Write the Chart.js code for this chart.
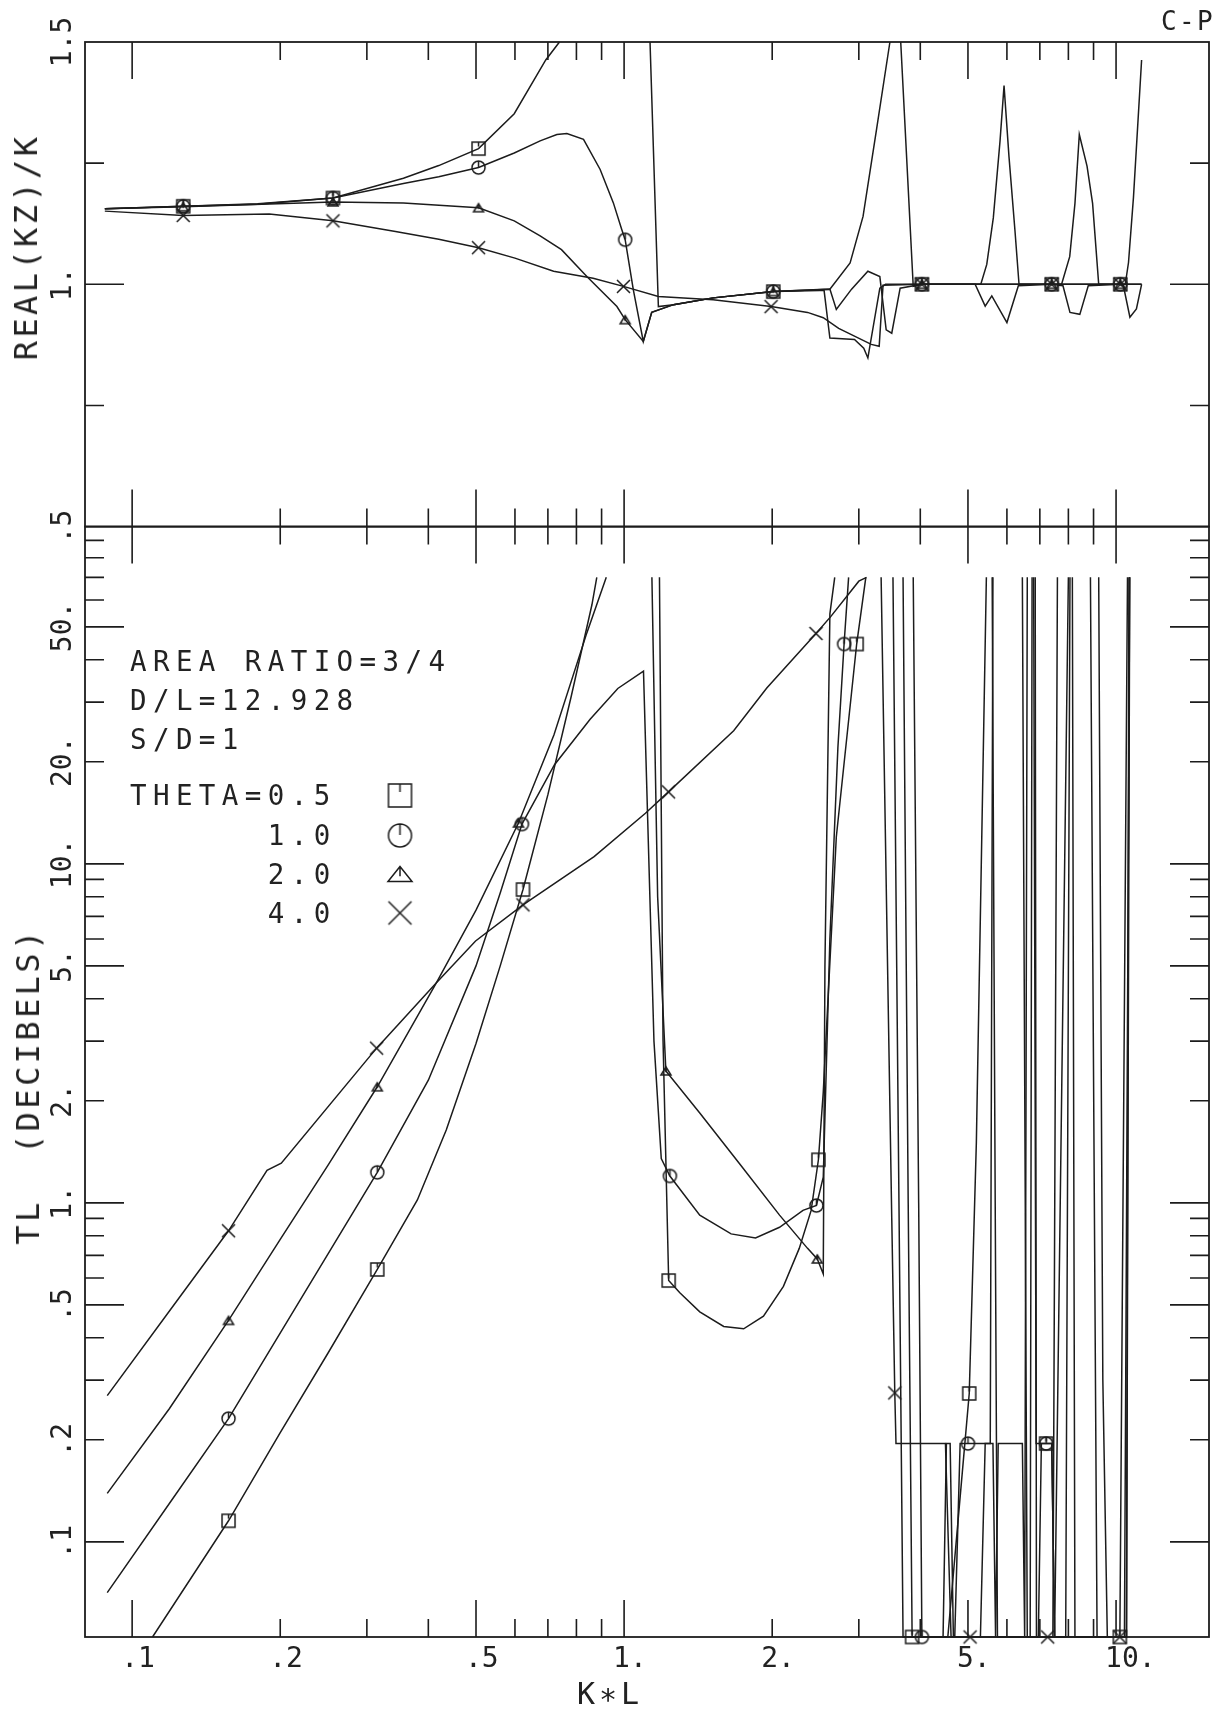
<!DOCTYPE html>
<html>
<head>
<meta charset="utf-8">
<script src="https://cdn.jsdelivr.net/npm/chart.js@4.4.1/dist/chart.umd.min.js"></script>
<style>
  html, body { margin: 0; padding: 0; background: #fff; }
  #page { position: relative; width: 1225px; height: 1712px; overflow: hidden; background: #fff;
          font-family: 'DejaVu Sans Mono', monospace; color: #222; }
  canvas { position: absolute; left: 0; }
  #reCanvas { top: 0; }
  #tlCanvas { top: 480px; }
  .txt { position: absolute; white-space: pre; line-height: 1; }
  .rot { transform: translate(-50%, -50%) rotate(-90deg); }
  .mid { transform: translate(-50%, -50%); }
  .note { left: 130px; font-size: 27.5px; letter-spacing: 6.4px; }
</style>
</head>
<body>
<div id="page">
  <canvas id="reCanvas" width="1225" height="560"></canvas>
  <canvas id="tlCanvas" width="1225" height="1232"></canvas>

  <div class="txt rot" style="left:26px;top:247px;font-size:32px;letter-spacing:3.4px">REAL(KZ)/K</div>
  <div class="txt rot" style="left:28px;top:1086px;font-size:32px;letter-spacing:3.4px">TL  (DECIBELS)</div>
  <div class="txt mid" style="left:610px;top:1694px;font-size:30px;letter-spacing:4px">K∗L</div>
  <div class="txt" style="left:1161px;top:8px;font-size:26px;letter-spacing:2.3px">C-P</div>

  <div class="txt note" style="top:648px">AREA RATIO=3/4</div>
  <div class="txt note" style="top:687px">D/L=12.928</div>
  <div class="txt note" style="top:726px">S/D=1</div>
  <div class="txt note" style="top:782px">THETA=0.5</div>
  <div class="txt note" style="top:822px">      1.0</div>
  <div class="txt note" style="top:861px">      2.0</div>
  <div class="txt note" style="top:900px">      4.0</div>
</div>

<script>
// ---- axis ticks and labels ----
const kLTicks = [0.1, 0.2, 0.3, 0.4, 0.5, 0.6, 0.7, 0.8, 0.9, 1, 2, 3, 4, 5, 6, 7, 8, 9, 10];
const kLLabelVals = [0.1, 0.2, 0.5, 1, 2, 5, 10];
const kLLabels = ['.1', '.2', '.5', '1.', '2.', '5.', '10.'];
const reTicks = [0.75, 1, 1.25];
const reLabelVals = [0.5, 1, 1.5];
const reLabels = ['.5', '1.', '1.5'];
const tlTicks = [0.1, 0.2, 0.3, 0.4, 0.5, 0.6, 0.7, 0.8, 0.9, 1, 2, 3, 4, 5, 6, 7, 8, 9,
                 10, 20, 30, 40, 50, 60, 70, 80, 90];
const tlLabelVals = [0.1, 0.2, 0.5, 1, 2, 5, 10, 20, 50];
const tlLabels = ['.1', '.2', '.5', '1.', '2.', '5.', '10.', '20.', '50.'];

// ---- REAL(KZ)/K, one x/y pair per theta (null = pen lifted outside the frame) ----
const reX05 = [0.088, 0.127, 0.18, 0.256, 0.356, 0.42, 0.506, 0.598, 0.693, 0.739, 0.9, 1.129, 1.174, 1.26, 1.518, 2.01, 2.62, 2.88, 3.06, 3.26, 3.47, 3.56, 3.65, 3.87, 4.03, 5.31, 5.46, 5.63, 5.81, 5.92, 6.06, 6.23, 6.35, 7.4, 7.75, 8.05, 8.25, 8.42, 8.73, 8.96, 9.22, 10.2, 10.44, 10.6, 10.85, 11.27];
const reY05 = [1.156, 1.161, 1.166, 1.178, 1.219, 1.245, 1.28, 1.352, 1.463, 1.5, null, 1.5, 0.954, 0.958, 0.972, 0.985, 0.99, 1.044, 1.14, 1.32, 1.5, null, 1.5, 0.996, 1.0, 1.0, 1.041, 1.137, 1.296, 1.41, 1.262, 1.111, 1.0, 1.0, 1.0, 1.057, 1.167, 1.309, 1.244, 1.167, 1.0, 1.0, 1.0, 1.045, 1.18, 1.463];
const reX10 = [0.088, 0.127, 0.18, 0.256, 0.356, 0.42, 0.506, 0.598, 0.675, 0.73, 0.765, 0.827, 0.894, 0.951, 0.989, 1.005, 1.044, 1.094, 1.138, 1.26, 1.518, 2.01, 2.62, 2.70, 2.9, 3.13, 3.31, 3.41, 3.5, 3.64, 4.03, 5.17, 5.42, 5.59, 6.0, 6.33, 7.4, 7.8, 8.06, 8.44, 8.78, 10.2, 10.35, 10.67, 11.0, 11.27];
const reY10 = [1.156, 1.161, 1.165, 1.178, 1.208, 1.222, 1.241, 1.271, 1.296, 1.309, 1.311, 1.299, 1.237, 1.168, 1.113, 1.092, 0.989, 0.882, 0.942, 0.958, 0.972, 0.985, 0.99, 0.948, 0.99, 1.027, 1.016, 0.906, 0.899, 0.992, 1.0, 1.0, 0.955, 0.976, 0.921, 0.997, 1.0, 0.997, 0.942, 0.938, 0.997, 1.0, 0.997, 0.932, 0.949, 1.0];
const reX20 = [0.088, 0.127, 0.256, 0.356, 0.506, 0.598, 0.675, 0.746, 0.84, 0.967, 1.005, 1.094, 1.138, 1.26, 1.518, 2.01, 2.5, 2.55, 2.62, 2.94, 3.07, 3.13, 3.31, 3.4, 4.03, 7.4, 10.2, 11.27];
const reY20 = [1.156, 1.16, 1.17, 1.168, 1.158, 1.131, 1.10, 1.0715, 1.016, 0.954, 0.927, 0.882, 0.942, 0.958, 0.972, 0.985, 0.987, 0.987, 0.889, 0.886, 0.868, 0.848, 0.992, 1.0, 1.0, 1.0, 1.0, 1.0];
const reX40 = [0.088, 0.127, 0.19, 0.256, 0.343, 0.42, 0.506, 0.6, 0.719, 0.865, 0.997, 1.174, 1.517, 1.99, 2.36, 2.54, 2.73, 3.18, 3.30, 3.36, 4.03, 7.4, 10.2, 11.27];
const reY40 = [1.151, 1.142, 1.145, 1.131, 1.109, 1.093, 1.0756, 1.054, 1.027, 1.0126, 0.9957, 0.975, 0.968, 0.954, 0.942, 0.931, 0.909, 0.876, 0.872, 0.998, 1.0, 1.0, 1.0, 1.0];

// ---- TL (dB), same layout ----
const tlX05 = [0.11, 0.157, 0.2, 0.25, 0.315, 0.38, 0.435, 0.5, 0.56, 0.623, 0.7, 0.78, 0.86, 0.88, 1.0, 1.18, 1.20, 1.232, 1.298, 1.425, 1.594, 1.75, 1.92, 2.108, 2.27, 2.4, 2.483, 2.54, 2.7, 2.97, 3.1, 3.4, 3.69, 3.78, 3.85, 4.55, 4.85, 5.03, 5.2, 5.45, 5.52, 5.6, 5.68, 5.74, 6.95, 7.05, 7.21, 7.4, 7.5, 9.9, 10.18, 10.5, 10.66];
const tlY05 = [0.0524, 0.1154, 0.21, 0.36, 0.636, 1.02, 1.64, 2.95, 5.0, 8.4, 16, 31, 58, 70, null, 70, 3.0, 0.59, 0.543, 0.477, 0.432, 0.425, 0.463, 0.567, 0.734, 0.95, 1.34, 2.12, 12, 44.5, 70, null, 70, 1.0, 0.0524, 0.0524, 0.15, 0.274, 1.5, 70, null, 70, 1.0, 0.0524, 0.0524, 0.195, 0.195, 0.195, 0.0524, 0.0524, 0.0524, 0.0524, 70];
const tlX10 = [0.089, 0.12, 0.157, 0.315, 0.4, 0.5, 0.56, 0.62, 0.722, 0.853, 0.971, 1.095, 1.15, 1.19, 1.239, 1.425, 1.65, 1.85, 2.07, 2.31, 2.46, 2.54, 2.62, 2.72, 2.80, 2.86, 3.5, 3.87, 3.97, 4.03, 4.70, 4.82, 5.0, 5.62, 5.69, 5.76, 6.45, 6.52, 6.6, 6.7, 6.8, 6.88, 7.21, 7.40, 7.5, 7.9, 8.06, 8.5, 9.22, 9.4, 9.6, 10.18, 10.5, 10.62];
const tlY10 = [0.0708, 0.132, 0.231, 1.23, 2.3, 5.0, 8.2, 13.1, 19.6, 26.7, 32.9, 37, 3.0, 1.35, 1.2, 0.92, 0.81, 0.788, 0.847, 0.95, 0.982, 1.19, 6, 22, 44.5, 70, null, 70, 1.0, 0.0524, 0.0524, 0.195, 0.195, 0.195, 0.0524, 0.195, 0.195, 0.0524, 70, null, 70, 0.195, 0.195, 0.195, 0.0524, 0.0524, 70, null, 70, 0.3, 0.0524, 0.0524, 0.0524, 70];
const tlX20 = [0.089, 0.119, 0.157, 0.2, 0.25, 0.315, 0.415, 0.5, 0.61, 0.72, 0.84, 0.92, 1.0, 1.139, 1.17, 1.216, 1.425, 1.72, 2.07, 2.36, 2.47, 2.54, 2.56, 2.62, 2.68, 3.0, 3.52, 3.62, 3.69, 4.45, 4.52, 4.60, 4.67, 5.30, 5.42, 5.55, 5.62, 6.2, 6.45, 6.6, 7.44, 7.6, 7.9, 8.15, 8.25, 9.9, 10.18, 10.55];
const tlY20 = [0.139, 0.247, 0.45, 0.78, 1.29, 2.2, 4.45, 7.3, 13.2, 24, 48, 70, null, 70, 8.0, 2.45, 1.84, 1.30, 0.92, 0.734, 0.683, 0.617, 5.0, 54.6, 70, null, 70, 1.0, 0.0524, 0.0524, 0.195, 0.195, 0.0524, 0.0524, 0.195, 0.195, 70, null, 70, 0.0524, 0.0524, 70, null, 70, 0.0524, 0.0524, 0.0524, 70];
const tlX40 = [0.089, 0.12, 0.157, 0.188, 0.201, 0.314, 0.415, 0.499, 0.623, 0.869, 1.105, 1.231, 1.67, 1.95, 2.455, 2.63, 3.0, 3.11, 3.2, 3.33, 3.50, 3.55, 3.57, 4.50, 4.62, 5.05, 6.69, 6.75, 6.8, 6.85, 6.89, 7.26, 7.5, 8.0, 8.1, 8.87, 9.15, 9.9, 10.18, 10.4, 10.66];
const tlY40 = [0.27, 0.487, 0.827, 1.247, 1.309, 2.86, 4.45, 5.92, 7.57, 10.5, 14.1, 16.3, 24.7, 33.0, 47.8, 53.6, 68.2, 70, null, 70, 0.9, 0.275, 0.195, 0.195, 0.0524, 0.0524, 0.0524, 70, null, 70, 0.0524, 0.0524, 0.0524, 70, null, 70, 0.0524, 0.0524, 0.0524, 0.0524, 70];

// points that carry a symbol
const marks05Re = [0.127, 0.256, 0.506, 2.01, 4.03, 7.4, 10.2];
const marks10Re = [0.127, 0.256, 0.506, 1.005, 2.01, 4.03, 7.4, 10.2];
const marks20Re = [0.127, 0.256, 0.506, 1.005, 2.01, 4.03, 7.4, 10.2];
const marks40Re = [0.127, 0.256, 0.506, 0.997, 1.99, 4.03, 7.4, 10.2];
const marks05Tl = [0.157, 0.315, 0.623, 1.232, 2.483, 2.97, 3.85, 5.03, 7.21, 10.18];
const marks10Tl = [0.157, 0.315, 0.62, 1.239, 2.46, 2.80, 4.03, 5.0, 7.21];
const marks20Tl = [0.157, 0.315, 0.61, 1.216, 2.47];
const marks40Tl = [0.157, 0.314, 0.623, 1.231, 2.455, 3.55, 5.05, 7.26, 10.18];

const ink = '#1c1c1c';

// plotter-style symbols: square, circle and triangle carry a short tick from the top
function makeSymbol(kind, w, hRatio) {
    const pad = 3;
    const c = document.createElement('canvas');
    c.width = c.height = Math.ceil(w + 2 * pad);
    const g = c.getContext('2d');
    const m = c.width / 2, h = w / 2;
    g.strokeStyle = ink;
    g.lineWidth = 1.5;
    g.beginPath();
    if (kind === 'square') {
        g.rect(m - h, m - h, w, w);
        g.moveTo(m, m - h); g.lineTo(m, m - h * 0.3);
    } else if (kind === 'circle') {
        g.arc(m, m, h, 0, Math.PI * 2);
        g.moveTo(m, m - h); g.lineTo(m, m - h * 0.05);
    } else if (kind === 'triangle') {
        const th = w * (hRatio || 0.6);
        g.moveTo(m, m - th / 2); g.lineTo(m + h, m + th / 2); g.lineTo(m - h, m + th / 2); g.closePath();
        g.moveTo(m, m - th / 2); g.lineTo(m, m + th * 0.15);
    } else {
        g.moveTo(m - h, m - h); g.lineTo(m + h, m + h);
        g.moveTo(m + h, m - h); g.lineTo(m - h, m + h);
    }
    g.stroke();
    return c;
}

const symbols = {
    square: makeSymbol('square', 13),
    circle: makeSymbol('circle', 13),
    triangle: makeSymbol('triangle', 10, 0.8),
    cross: makeSymbol('cross', 13)
};
const keySymbols = [
    makeSymbol('square', 23),
    makeSymbol('circle', 23),
    makeSymbol('triangle', 24, 0.62),
    makeSymbol('cross', 23)
];

const pts = (xs, ys) => xs.map((x, i) => ({ x: x, y: ys[i] }));

function series(xs, ys, marks, style) {
    return {
        data: pts(xs, ys),
        borderColor: ink,
        borderWidth: 1.5,
        tension: 0,
        spanGaps: false,
        clip: 10,
        pointStyle: symbols[style],
        pointRadius: ctx => (ctx.raw && ctx.raw.y !== null && marks.includes(ctx.raw.x)) ? 6 : 0,
        pointHoverRadius: 0
    };
}

const isLong = v => {
    const m = Math.round(v / Math.pow(10, Math.floor(Math.log10(v) + 1e-9)));
    return m === 1 || m === 5;
};

// frame with inward ticks on all four sides, plus the symbol key
const frameTicks = {
    id: 'frameTicks',
    afterDatasetsDraw(chart, args, opts) {
        const { ctx, chartArea: a, scales } = chart;
        ctx.save();
        ctx.strokeStyle = ink;
        ctx.lineWidth = 1.8;
        ctx.strokeRect(a.left, a.top, a.right - a.left, a.bottom - a.top);
        ctx.lineWidth = 1.6;
        ctx.beginPath();
        for (const v of kLTicks) {
            const x = scales.x.getPixelForValue(v);
            const len = isLong(v) ? 37 : 18;
            ctx.moveTo(x, a.top); ctx.lineTo(x, a.top + len);
            ctx.moveTo(x, a.bottom); ctx.lineTo(x, a.bottom - len);
        }
        for (const v of opts.yTicks) {
            const y = scales.y.getPixelForValue(v);
            const len = opts.longY(v) ? 39 : 19;
            ctx.moveTo(a.left, y); ctx.lineTo(a.left + len, y);
            ctx.moveTo(a.right, y); ctx.lineTo(a.right - len, y);
        }
        ctx.stroke();
        if (opts.key) {
            opts.key.forEach((k, i) => {
                const s = keySymbols[i];
                ctx.drawImage(s, k[0] - s.width / 2, k[1] - s.height / 2);
            });
        }
        ctx.restore();
    }
};

Chart.defaults.font.family = "'DejaVu Sans Mono', monospace";
Chart.defaults.font.size = 28;
Chart.defaults.color = '#222';

const yLabelTicks = (vals, labels) => ({
    minRotation: 90, maxRotation: 90, crossAlign: 'center', padding: -4.3, autoSkip: false,
    callback: v => labels[vals.indexOf(v)]
});

const kLRange = { min: 0.0802, max: 15.45 };

new Chart(document.getElementById('reCanvas'), {
    type: 'line',
    data: {
        datasets: [
            series(reX05, reY05, marks05Re, 'square'),
            series(reX10, reY10, marks10Re, 'circle'),
            series(reX20, reY20, marks20Re, 'triangle'),
            series(reX40, reY40, marks40Re, 'cross')
        ]
    },
    options: {
        responsive: false,
        devicePixelRatio: 1,
        animation: false,
        events: [],
        layout: { padding: { left: 0, right: 16, top: 42, bottom: 33.4 } },
        plugins: {
            legend: { display: false },
            tooltip: { enabled: false },
            frameTicks: { yTicks: reTicks, longY: v => v === 1 }
        },
        scales: {
            x: { type: 'logarithmic', min: kLRange.min, max: kLRange.max, display: false },
            y: {
                type: 'linear', position: 'left', min: 0.5, max: 1.5,
                grid: { display: false, drawTicks: false },
                border: { display: false },
                afterBuildTicks: s => { s.ticks = reLabelVals.map(v => ({ value: v })); },
                afterFit: s => { s.width = 85; },
                ticks: yLabelTicks(reLabelVals, reLabels)
            }
        }
    },
    plugins: [frameTicks]
});

new Chart(document.getElementById('tlCanvas'), {
    type: 'line',
    data: {
        datasets: [
            series(tlX05, tlY05, marks05Tl, 'square'),
            series(tlX10, tlY10, marks10Tl, 'circle'),
            series(tlX20, tlY20, marks20Tl, 'triangle'),
            series(tlX40, tlY40, marks40Tl, 'cross')
        ]
    },
    options: {
        responsive: false,
        devicePixelRatio: 1,
        animation: false,
        events: [],
        layout: { padding: { left: 0, right: 16, top: 46.6, bottom: 0 } },
        plugins: {
            legend: { display: false },
            tooltip: { enabled: false },
            frameTicks: {
                yTicks: tlTicks,
                longY: isLong,
                key: [[400, 315.5], [400, 355.5], [400, 394], [400, 433]]
            }
        },
        scales: {
            x: {
                type: 'logarithmic', min: kLRange.min, max: kLRange.max,
                grid: { display: false, drawTicks: false },
                border: { display: false },
                afterBuildTicks: s => { s.ticks = kLLabelVals.map(v => ({ value: v })); },
                afterFit: s => { s.height = 75; },
                ticks: {
                    minRotation: 0, maxRotation: 0, autoSkip: false,
                    align: 'start', labelOffset: -11, padding: 6,
                    callback: v => kLLabels[kLLabelVals.indexOf(v)]
                }
            },
            y: {
                type: 'logarithmic', position: 'left', min: 0.0524, max: 98.8,
                grid: { display: false, drawTicks: false },
                border: { display: false },
                afterBuildTicks: s => { s.ticks = tlLabelVals.map(v => ({ value: v })); },
                afterFit: s => { s.width = 85; },
                ticks: yLabelTicks(tlLabelVals, tlLabels)
            }
        }
    },
    plugins: [frameTicks]
});
</script>
</body>
</html>
